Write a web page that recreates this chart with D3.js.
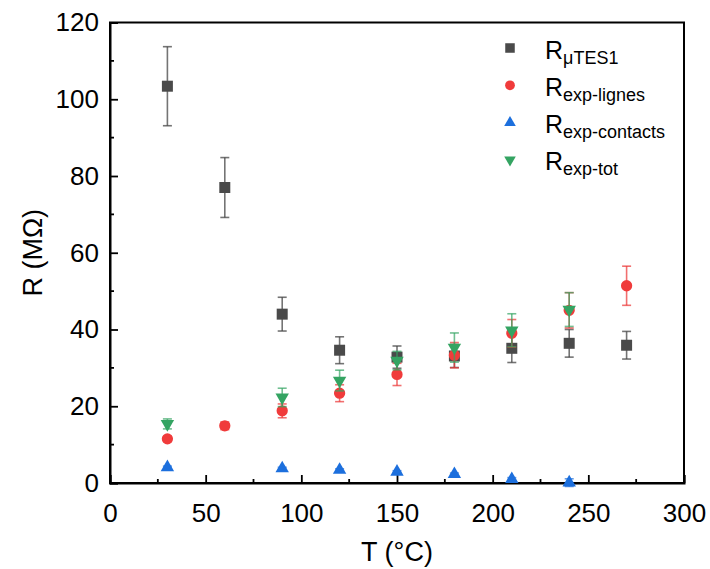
<!DOCTYPE html>
<html><head><meta charset="utf-8">
<script src="https://cdn.jsdelivr.net/npm/d3@7"></script>
<style>body{margin:0;background:#fff}svg{display:block}text{font-family:Arial,"Liberation Sans",sans-serif;fill:#000}</style>
</head><body><svg id="c" width="710" height="569"></svg>
<script>
const temps = [30, 60, 90, 120, 150, 180, 210, 240, 270];
const rMuTES = [103.4, 77.0, 44.0, 34.6, 32.8, 33.1, 35.1, 36.4, 35.9];
const rMuTESErr = [10.3, 7.8, 4.4, 3.5, 2.9, 3.0, 3.7, 3.6, 3.6];
const rLignes = [11.5, 14.9, 18.8, 23.4, 28.3, 33.3, 39.0, 45.0, 51.4];
const rLignesErr = [0.7, 1.0, 1.8, 2.2, 2.9, 3.3, 3.6, 4.6, 5.1];
const tempsPartial = [30, 90, 120, 150, 180, 210, 240];
const rContacts = [4.1, 3.8, 3.4, 2.9, 2.3, 1.0, 0.1];
const rContactsErr = [0.3, 0.3, 0.3, 0.3, 0.3, 0.4, 1.0];
const rTot = [15.4, 22.3, 26.7, 31.9, 35.3, 39.8, 45.2];
const rTotErr = [1.3, 2.4, 2.7, 2.4, 3.8, 4.3, 4.4];
const xTicks = [0, 50, 100, 150, 200, 250, 300];
const yTicks = [0, 20, 40, 60, 80, 100, 120];

const series = [
  {name: "μTES1", x: temps, y: rMuTES, e: rMuTESErr, color: "#4a4a4a", ecolor: "rgba(70,70,70,0.75)", sym: d3.symbolSquare, size: 121, rot: 0},
  {name: "exp-lignes", x: temps, y: rLignes, e: rLignesErr, color: "#f03b3b", ecolor: "rgba(235,50,50,0.7)", sym: d3.symbolCircle, size: 100, rot: 0},
  {name: "exp-contacts", x: tempsPartial, y: rContacts, e: rContactsErr, color: "#1c6fdd", ecolor: "rgba(28,111,221,0.7)", sym: d3.symbolTriangle, size: 78, rot: 0},
  {name: "exp-tot", x: tempsPartial, y: rTot, e: rTotErr, color: "#34a462", ecolor: "rgba(52,164,98,0.7)", sym: d3.symbolTriangle, size: 78, rot: 180}
];

const svg = d3.select("#c");
const m = {l: 110, r: 684, t: 22.5, b: 483};
const x = d3.scaleLinear().domain([0, 300]).range([m.l, m.r]);
const y = d3.scaleLinear().domain([0, 120]).range([m.b, m.t]);

// frame
svg.append("rect").attr("x", m.l).attr("y", m.t).attr("width", m.r - m.l).attr("height", m.b - m.t)
  .attr("fill", "none").attr("stroke", "#000").attr("stroke-width", 2);

// axes with inward ticks
const xAxis = d3.axisBottom(x).tickValues(xTicks).tickSize(-8).tickPadding(14).tickFormat(d3.format("d"));
const gx = svg.append("g").attr("transform", `translate(0,${m.b})`).call(xAxis);
const yAxis = d3.axisLeft(y).tickValues(yTicks).tickSize(-8).tickPadding(11).tickFormat(d3.format("d"));
const gy = svg.append("g").attr("transform", `translate(${m.l},0)`).call(yAxis);
[gx, gy].forEach(g => {
  g.select(".domain").attr("stroke-width", 2);
  g.selectAll(".tick line").attr("stroke-width", 1.8);
  g.selectAll(".tick text").attr("font-size", 26).attr("font-family", "Arial, 'Liberation Sans', sans-serif");
});
gx.selectAll(".tick text").attr("dy", "0.95em");
// minor ticks
svg.append("g").selectAll("line").data(d3.range(25, 300, 50)).join("line")
  .attr("x1", d => x(d)).attr("x2", d => x(d)).attr("y1", m.b).attr("y2", m.b - 4)
  .attr("stroke", "#000").attr("stroke-width", 1.8);
svg.append("g").selectAll("line").data(d3.range(10, 120, 20)).join("line")
  .attr("y1", d => y(d)).attr("y2", d => y(d)).attr("x1", m.l).attr("x2", m.l + 4)
  .attr("stroke", "#000").attr("stroke-width", 1.8);

// axis titles
svg.append("text").attr("x", (m.l + m.r) / 2).attr("y", 561).attr("text-anchor", "middle")
  .attr("font-size", 27).text("T (°C)");
svg.append("text").attr("transform", `translate(42,${(m.t + m.b) / 2}) rotate(-90)`).attr("text-anchor", "middle")
  .attr("font-size", 27).text("R (MΩ)");

// data
const cap = 4.5;
series.forEach(s => {
  const pts = s.x.map((t, i) => ({t, v: s.y[i], e: s.e[i]}));
  const g = svg.append("g");
  const eb = g.append("g").attr("stroke", s.ecolor).attr("stroke-width", 1.6).attr("fill", "none");
  pts.forEach(p => {
    eb.append("line").attr("x1", x(p.t)).attr("x2", x(p.t)).attr("y1", y(p.v - p.e)).attr("y2", y(p.v + p.e));
    eb.append("line").attr("x1", x(p.t) - cap).attr("x2", x(p.t) + cap).attr("y1", y(p.v + p.e)).attr("y2", y(p.v + p.e));
    eb.append("line").attr("x1", x(p.t) - cap).attr("x2", x(p.t) + cap).attr("y1", y(p.v - p.e)).attr("y2", y(p.v - p.e));
  });
  g.selectAll("path.mk").data(pts).join("path").attr("class", "mk")
    .attr("d", d3.symbol().type(s.sym).size(s.size))
    .attr("transform", p => `translate(${x(p.t)},${y(p.v)}) rotate(${s.rot})`)
    .attr("fill", s.color);
});

// legend
const leg = svg.append("g");
series.forEach((s, i) => {
  const cy = 48 + i * 37.3;
  leg.append("path").attr("d", d3.symbol().type(s.sym).size(s.size * 0.75))
    .attr("transform", `translate(510,${cy}) rotate(${s.rot})`).attr("fill", s.color);
  const t = leg.append("text").attr("x", 545).attr("y", cy + 10.5).attr("font-size", 25);
  t.append("tspan").text("R");
  t.append("tspan").attr("font-size", 18).attr("dy", 5).text(s.name);
});
</script></body></html>
